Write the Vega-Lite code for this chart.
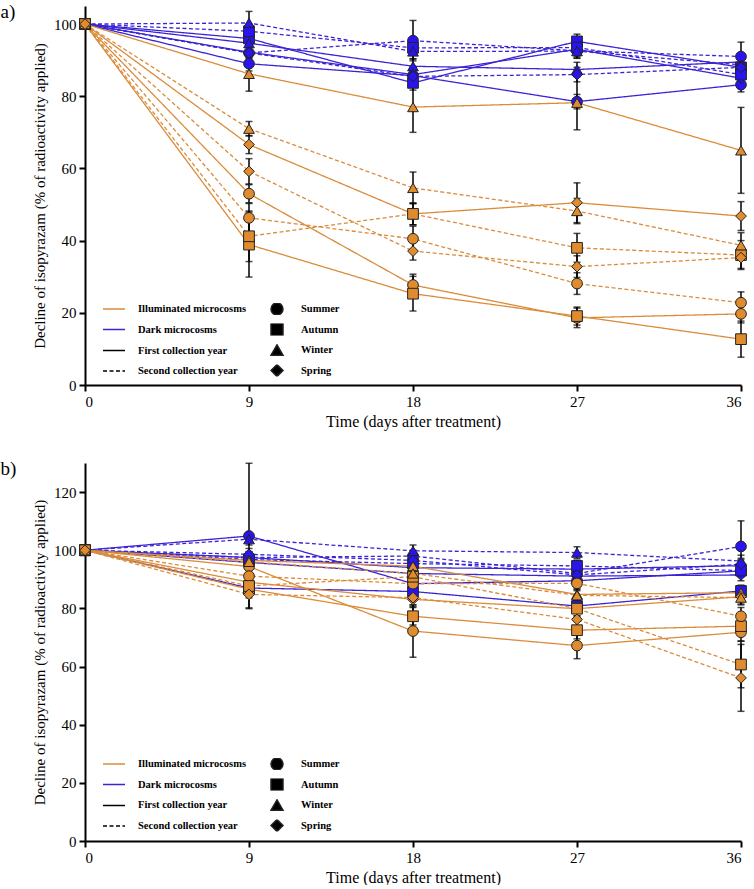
{
"$schema":"https://vega.github.io/schema/vega-lite/v6.json",
"padding":{"left":0,"top":3,"right":0,"bottom":0},
"background":"white",
"config":{
 "view":{"stroke":null},
 "font":"Liberation Serif",
 "axis":{"grid":false,"domainColor":"black","domainWidth":2,"tickColor":"black","tickWidth":2,"tickSize":6,"labelFont":"Liberation Serif","labelFontSize":15,"labelColor":"black","labelPadding":3,"titleFont":"Liberation Serif","titleFontSize":15,"titleColor":"black","titleFontWeight":"normal"},
 "legend":{"orient":"none","title":null,"padding":0,"labelFont":"Liberation Serif","labelFontSize":10.5,"labelFontWeight":"bold","labelColor":"black","clipHeight":12,"rowPadding":8.5,"labelLimit":300}
},
"spacing":30,
"resolve":{"scale":{"x":"independent","y":"independent"},"legend":{"color":"independent","strokeDash":"independent","shape":"independent","fill":"independent"}},
"datasets":{
"pa":[
{"light":"Dark","year":"First","season":"Summer","day":0,"value":100,"sd":0},
{"light":"Dark","year":"First","season":"Summer","day":9,"value":89,"sd":2},
{"light":"Dark","year":"First","season":"Summer","day":18,"value":85.7,"sd":2},
{"light":"Dark","year":"First","season":"Summer","day":27,"value":78.5,"sd":2},
{"light":"Dark","year":"First","season":"Summer","day":36,"value":83.2,"sd":2},
{"light":"Dark","year":"First","season":"Autumn","day":0,"value":100,"sd":0},
{"light":"Dark","year":"First","season":"Autumn","day":9,"value":96,"sd":2},
{"light":"Dark","year":"First","season":"Autumn","day":18,"value":83.7,"sd":2},
{"light":"Dark","year":"First","season":"Autumn","day":27,"value":95.2,"sd":2},
{"light":"Dark","year":"First","season":"Autumn","day":36,"value":88,"sd":1.5},
{"light":"Dark","year":"First","season":"Winter","day":0,"value":100,"sd":0},
{"light":"Dark","year":"First","season":"Winter","day":9,"value":94.7,"sd":2},
{"light":"Dark","year":"First","season":"Winter","day":18,"value":88.3,"sd":2},
{"light":"Dark","year":"First","season":"Winter","day":27,"value":87.4,"sd":2},
{"light":"Dark","year":"First","season":"Winter","day":36,"value":89.5,"sd":2},
{"light":"Dark","year":"First","season":"Spring","day":0,"value":100,"sd":0},
{"light":"Dark","year":"First","season":"Spring","day":9,"value":92.2,"sd":1.5},
{"light":"Dark","year":"First","season":"Spring","day":18,"value":86,"sd":2},
{"light":"Dark","year":"First","season":"Spring","day":27,"value":93,"sd":2},
{"light":"Dark","year":"First","season":"Spring","day":36,"value":85,"sd":2},
{"light":"Dark","year":"Second","season":"Summer","day":0,"value":100,"sd":0},
{"light":"Dark","year":"Second","season":"Summer","day":9,"value":92,"sd":2},
{"light":"Dark","year":"Second","season":"Summer","day":18,"value":95.4,"sd":5.6},
{"light":"Dark","year":"Second","season":"Summer","day":27,"value":92.6,"sd":2},
{"light":"Dark","year":"Second","season":"Summer","day":36,"value":91,"sd":4},
{"light":"Dark","year":"Second","season":"Autumn","day":0,"value":100,"sd":0},
{"light":"Dark","year":"Second","season":"Autumn","day":9,"value":98,"sd":2},
{"light":"Dark","year":"Second","season":"Autumn","day":18,"value":93.4,"sd":2},
{"light":"Dark","year":"Second","season":"Autumn","day":27,"value":93.5,"sd":2},
{"light":"Dark","year":"Second","season":"Autumn","day":36,"value":86,"sd":2},
{"light":"Dark","year":"Second","season":"Winter","day":0,"value":100,"sd":0},
{"light":"Dark","year":"Second","season":"Winter","day":9,"value":100.3,"sd":3.2},
{"light":"Dark","year":"Second","season":"Winter","day":18,"value":92.4,"sd":2},
{"light":"Dark","year":"Second","season":"Winter","day":27,"value":92.5,"sd":2},
{"light":"Dark","year":"Second","season":"Winter","day":36,"value":88.7,"sd":2},
{"light":"Dark","year":"Second","season":"Spring","day":0,"value":100,"sd":0},
{"light":"Dark","year":"Second","season":"Spring","day":9,"value":92,"sd":1.5},
{"light":"Dark","year":"Second","season":"Spring","day":18,"value":85.5,"sd":2},
{"light":"Dark","year":"Second","season":"Spring","day":27,"value":86,"sd":2},
{"light":"Dark","year":"Second","season":"Spring","day":36,"value":88,"sd":2},
{"light":"Illuminated","year":"First","season":"Summer","day":0,"value":100,"sd":0},
{"light":"Illuminated","year":"First","season":"Summer","day":9,"value":53,"sd":2.5},
{"light":"Illuminated","year":"First","season":"Summer","day":18,"value":27.7,"sd":3},
{"light":"Illuminated","year":"First","season":"Summer","day":27,"value":18.6,"sd":2.7},
{"light":"Illuminated","year":"First","season":"Summer","day":36,"value":19.7,"sd":2.5},
{"light":"Illuminated","year":"First","season":"Autumn","day":0,"value":100,"sd":0},
{"light":"Illuminated","year":"First","season":"Autumn","day":9,"value":38.9,"sd":9},
{"light":"Illuminated","year":"First","season":"Autumn","day":18,"value":25.3,"sd":4.8},
{"light":"Illuminated","year":"First","season":"Autumn","day":27,"value":19.1,"sd":2.5},
{"light":"Illuminated","year":"First","season":"Autumn","day":36,"value":12.7,"sd":5},
{"light":"Illuminated","year":"First","season":"Winter","day":0,"value":100,"sd":0},
{"light":"Illuminated","year":"First","season":"Winter","day":9,"value":86.2,"sd":4.8},
{"light":"Illuminated","year":"First","season":"Winter","day":18,"value":77,"sd":7},
{"light":"Illuminated","year":"First","season":"Winter","day":27,"value":78.2,"sd":7.5},
{"light":"Illuminated","year":"First","season":"Winter","day":36,"value":65,"sd":11.9},
{"light":"Illuminated","year":"First","season":"Spring","day":0,"value":100,"sd":0},
{"light":"Illuminated","year":"First","season":"Spring","day":9,"value":66.6,"sd":2.5},
{"light":"Illuminated","year":"First","season":"Spring","day":18,"value":47.4,"sd":3},
{"light":"Illuminated","year":"First","season":"Spring","day":27,"value":50.5,"sd":5.5},
{"light":"Illuminated","year":"First","season":"Spring","day":36,"value":46.8,"sd":4},
{"light":"Illuminated","year":"Second","season":"Summer","day":0,"value":100,"sd":0},
{"light":"Illuminated","year":"Second","season":"Summer","day":9,"value":46.3,"sd":4},
{"light":"Illuminated","year":"Second","season":"Summer","day":18,"value":40.5,"sd":3.5},
{"light":"Illuminated","year":"Second","season":"Summer","day":27,"value":28.1,"sd":3},
{"light":"Illuminated","year":"Second","season":"Summer","day":36,"value":22.8,"sd":3},
{"light":"Illuminated","year":"Second","season":"Autumn","day":0,"value":100,"sd":0},
{"light":"Illuminated","year":"Second","season":"Autumn","day":9,"value":41.2,"sd":7},
{"light":"Illuminated","year":"Second","season":"Autumn","day":18,"value":47.4,"sd":3},
{"light":"Illuminated","year":"Second","season":"Autumn","day":27,"value":38,"sd":4},
{"light":"Illuminated","year":"Second","season":"Autumn","day":36,"value":36,"sd":4},
{"light":"Illuminated","year":"Second","season":"Winter","day":0,"value":100,"sd":0},
{"light":"Illuminated","year":"Second","season":"Winter","day":9,"value":71,"sd":2},
{"light":"Illuminated","year":"Second","season":"Winter","day":18,"value":54.6,"sd":4.4},
{"light":"Illuminated","year":"Second","season":"Winter","day":27,"value":48.2,"sd":3.5},
{"light":"Illuminated","year":"Second","season":"Winter","day":36,"value":38.7,"sd":3.5},
{"light":"Illuminated","year":"Second","season":"Spring","day":0,"value":100,"sd":0},
{"light":"Illuminated","year":"Second","season":"Spring","day":9,"value":59.2,"sd":3.5},
{"light":"Illuminated","year":"Second","season":"Spring","day":18,"value":37.1,"sd":2.5},
{"light":"Illuminated","year":"Second","season":"Spring","day":27,"value":32.8,"sd":3},
{"light":"Illuminated","year":"Second","season":"Spring","day":36,"value":35.3,"sd":3}
],
"pb":[
{"light":"Dark","year":"First","season":"Summer","day":0,"value":100,"sd":0},
{"light":"Dark","year":"First","season":"Summer","day":9,"value":104.9,"sd":25},
{"light":"Dark","year":"First","season":"Summer","day":18,"value":88.5,"sd":2},
{"light":"Dark","year":"First","season":"Summer","day":27,"value":89.5,"sd":2},
{"light":"Dark","year":"First","season":"Summer","day":36,"value":92.9,"sd":2},
{"light":"Dark","year":"First","season":"Autumn","day":0,"value":100,"sd":0},
{"light":"Dark","year":"First","season":"Autumn","day":9,"value":87,"sd":2},
{"light":"Dark","year":"First","season":"Autumn","day":18,"value":85.8,"sd":2},
{"light":"Dark","year":"First","season":"Autumn","day":27,"value":80.8,"sd":2},
{"light":"Dark","year":"First","season":"Autumn","day":36,"value":86,"sd":2},
{"light":"Dark","year":"First","season":"Winter","day":0,"value":100,"sd":0},
{"light":"Dark","year":"First","season":"Winter","day":9,"value":97.5,"sd":2},
{"light":"Dark","year":"First","season":"Winter","day":18,"value":94,"sd":2},
{"light":"Dark","year":"First","season":"Winter","day":27,"value":93.5,"sd":2},
{"light":"Dark","year":"First","season":"Winter","day":36,"value":94.7,"sd":2},
{"light":"Dark","year":"First","season":"Spring","day":0,"value":100,"sd":0},
{"light":"Dark","year":"First","season":"Spring","day":9,"value":95.8,"sd":2},
{"light":"Dark","year":"First","season":"Spring","day":18,"value":92,"sd":2},
{"light":"Dark","year":"First","season":"Spring","day":27,"value":91.1,"sd":2},
{"light":"Dark","year":"First","season":"Spring","day":36,"value":91.5,"sd":2},
{"light":"Dark","year":"Second","season":"Summer","day":0,"value":100,"sd":0},
{"light":"Dark","year":"Second","season":"Summer","day":9,"value":97.5,"sd":2},
{"light":"Dark","year":"Second","season":"Summer","day":18,"value":98,"sd":2},
{"light":"Dark","year":"Second","season":"Summer","day":27,"value":92,"sd":2},
{"light":"Dark","year":"Second","season":"Summer","day":36,"value":101.3,"sd":8.8},
{"light":"Dark","year":"Second","season":"Autumn","day":0,"value":100,"sd":0},
{"light":"Dark","year":"Second","season":"Autumn","day":9,"value":96.8,"sd":2},
{"light":"Dark","year":"Second","season":"Autumn","day":18,"value":95.4,"sd":2},
{"light":"Dark","year":"Second","season":"Autumn","day":27,"value":94.6,"sd":2},
{"light":"Dark","year":"Second","season":"Autumn","day":36,"value":93,"sd":2},
{"light":"Dark","year":"Second","season":"Winter","day":0,"value":100,"sd":0},
{"light":"Dark","year":"Second","season":"Winter","day":9,"value":103.8,"sd":2},
{"light":"Dark","year":"Second","season":"Winter","day":18,"value":99.8,"sd":2},
{"light":"Dark","year":"Second","season":"Winter","day":27,"value":99.2,"sd":2},
{"light":"Dark","year":"Second","season":"Winter","day":36,"value":96.3,"sd":2},
{"light":"Dark","year":"Second","season":"Spring","day":0,"value":100,"sd":0},
{"light":"Dark","year":"Second","season":"Spring","day":9,"value":98.6,"sd":2},
{"light":"Dark","year":"Second","season":"Spring","day":18,"value":96.5,"sd":2},
{"light":"Dark","year":"Second","season":"Spring","day":27,"value":91.5,"sd":2},
{"light":"Dark","year":"Second","season":"Spring","day":36,"value":95.2,"sd":2},
{"light":"Illuminated","year":"First","season":"Summer","day":0,"value":100,"sd":0},
{"light":"Illuminated","year":"First","season":"Summer","day":9,"value":94.4,"sd":3},
{"light":"Illuminated","year":"First","season":"Summer","day":18,"value":72.2,"sd":9},
{"light":"Illuminated","year":"First","season":"Summer","day":27,"value":67.2,"sd":4.5},
{"light":"Illuminated","year":"First","season":"Summer","day":36,"value":71.8,"sd":3},
{"light":"Illuminated","year":"First","season":"Autumn","day":0,"value":100,"sd":0},
{"light":"Illuminated","year":"First","season":"Autumn","day":9,"value":86.6,"sd":3},
{"light":"Illuminated","year":"First","season":"Autumn","day":18,"value":77.3,"sd":3},
{"light":"Illuminated","year":"First","season":"Autumn","day":27,"value":72.5,"sd":3},
{"light":"Illuminated","year":"First","season":"Autumn","day":36,"value":73.9,"sd":3},
{"light":"Illuminated","year":"First","season":"Winter","day":0,"value":100,"sd":0},
{"light":"Illuminated","year":"First","season":"Winter","day":9,"value":96.5,"sd":2},
{"light":"Illuminated","year":"First","season":"Winter","day":18,"value":94.5,"sd":2},
{"light":"Illuminated","year":"First","season":"Winter","day":27,"value":84.8,"sd":2},
{"light":"Illuminated","year":"First","season":"Winter","day":36,"value":85.4,"sd":2},
{"light":"Illuminated","year":"First","season":"Spring","day":0,"value":100,"sd":0},
{"light":"Illuminated","year":"First","season":"Spring","day":9,"value":89,"sd":3},
{"light":"Illuminated","year":"First","season":"Spring","day":18,"value":83.1,"sd":2.5},
{"light":"Illuminated","year":"First","season":"Spring","day":27,"value":79.9,"sd":2.5},
{"light":"Illuminated","year":"First","season":"Spring","day":36,"value":84,"sd":2.5},
{"light":"Illuminated","year":"Second","season":"Summer","day":0,"value":100,"sd":0},
{"light":"Illuminated","year":"Second","season":"Summer","day":9,"value":91.1,"sd":2.5},
{"light":"Illuminated","year":"Second","season":"Summer","day":18,"value":88.5,"sd":2.5},
{"light":"Illuminated","year":"Second","season":"Summer","day":27,"value":88.6,"sd":2.5},
{"light":"Illuminated","year":"Second","season":"Summer","day":36,"value":77.3,"sd":3},
{"light":"Illuminated","year":"Second","season":"Autumn","day":0,"value":100,"sd":0},
{"light":"Illuminated","year":"Second","season":"Autumn","day":9,"value":87.7,"sd":3},
{"light":"Illuminated","year":"Second","season":"Autumn","day":18,"value":90.9,"sd":2.5},
{"light":"Illuminated","year":"Second","season":"Autumn","day":27,"value":79.9,"sd":2.5},
{"light":"Illuminated","year":"Second","season":"Autumn","day":36,"value":60.7,"sd":8},
{"light":"Illuminated","year":"Second","season":"Winter","day":0,"value":100,"sd":0},
{"light":"Illuminated","year":"Second","season":"Winter","day":9,"value":96,"sd":2},
{"light":"Illuminated","year":"Second","season":"Winter","day":18,"value":92,"sd":2},
{"light":"Illuminated","year":"Second","season":"Winter","day":27,"value":84.5,"sd":2},
{"light":"Illuminated","year":"Second","season":"Winter","day":36,"value":83.7,"sd":2.5},
{"light":"Illuminated","year":"Second","season":"Spring","day":0,"value":100,"sd":0},
{"light":"Illuminated","year":"Second","season":"Spring","day":9,"value":84.8,"sd":4.6},
{"light":"Illuminated","year":"Second","season":"Spring","day":18,"value":83.7,"sd":2.5},
{"light":"Illuminated","year":"Second","season":"Spring","day":27,"value":76.2,"sd":2.5},
{"light":"Illuminated","year":"Second","season":"Spring","day":36,"value":56.1,"sd":11.5}
]
},
"vconcat":[
{
 "width":656,"height":379,
 "title":{"text":"a)","anchor":"start","frame":"bounds","orient":"top","offset":-16,"dx":-32,"font":"Liberation Serif","fontSize":19,"fontWeight":"normal","color":"black"},
 "data":{"name":"pa"},
 "encoding":{
  "x":{"field":"day","type":"quantitative","scale":{"domain":[0,36],"nice":false,"zero":false},"axis":{"values":[0,9,18,27,36],"title":"Time (days after treatment)","titleFontSize":16,"titlePadding":4}},
  "y":{"field":"value","type":"quantitative","scale":{"domain":[0,105],"nice":false},"axis":{"values":[0,20,40,60,80,100],"title":"Decline of isopyrazam (% of radioactivity applied)","titlePadding":6}}
 },
 "layer":[
  {"mark":{"type":"line","strokeWidth":1.3},
   "encoding":{
    "color":{"field":"light","type":"nominal","scale":{"domain":["Illuminated","Dark"],"range":["#DA8C3A","#3B24D4"]},"legend":{"legendX":17,"legendY":297,"symbolType":"stroke","symbolSize":484,"symbolStrokeWidth":1.5,"labelOffset":12,"labelExpr":"datum.label + ' microcosms'"}},
    "strokeDash":{"field":"year","type":"nominal","scale":{"domain":["First","Second"],"range":[[1,0],[4,2.5]]},"legend":{"legendX":17,"legendY":338.5,"symbolType":"stroke","symbolSize":484,"symbolStrokeWidth":1.5,"labelOffset":12,"labelExpr":"datum.label + ' collection year'","encode":{"symbols":{"update":{"stroke":{"value":"black"}}}}}},
    "detail":{"field":"season"},
    "order":{"field":"day","type":"quantitative"}
   }},
  {"transform":[{"filter":"datum.day > 0"}],
   "mark":{"type":"errorbar","ticks":true,"size":7,"thickness":1.5,"color":"black"},
   "encoding":{"yError":{"field":"sd"}}},
  {"mark":{"type":"point","filled":true,"size":115,"stroke":"#222222","strokeWidth":1,"opacity":1},
   "encoding":{
    "fill":{"field":"light","type":"nominal","scale":{"domain":["Illuminated","Dark"],"range":["#E08C2E","#2A14EE"]},"legend":null},
    "shape":{"field":"season","type":"nominal","scale":{"domain":["Summer","Autumn","Winter","Spring"],"range":["circle","square","triangle-up","diamond"]},"legend":{"legendX":185,"legendY":297,"symbolSize":144,"labelOffset":17,"encode":{"symbols":{"update":{"fill":{"value":"black"},"stroke":{"value":"black"},"opacity":{"value":1}}}}}}
   }}
 ]
},
{
 "width":656,"height":378,
 "title":{"text":"b)","anchor":"start","frame":"bounds","orient":"top","offset":-16,"dx":-32,"font":"Liberation Serif","fontSize":19,"fontWeight":"normal","color":"black"},
 "data":{"name":"pb"},
 "encoding":{
  "x":{"field":"day","type":"quantitative","scale":{"domain":[0,36],"nice":false,"zero":false},"axis":{"values":[0,9,18,27,36],"title":"Time (days after treatment)","titleFontSize":16,"titlePadding":4}},
  "y":{"field":"value","type":"quantitative","scale":{"domain":[0,130],"nice":false},"axis":{"values":[0,20,40,60,80,100,120],"title":"Decline of isopyrazam (% of radioactivity applied)","titlePadding":6}}
 },
 "layer":[
  {"mark":{"type":"line","strokeWidth":1.3},
   "encoding":{
    "color":{"field":"light","type":"nominal","scale":{"domain":["Illuminated","Dark"],"range":["#DA8C3A","#3B24D4"]},"legend":{"legendX":17,"legendY":295,"symbolType":"stroke","symbolSize":484,"symbolStrokeWidth":1.5,"labelOffset":12,"labelExpr":"datum.label + ' microcosms'"}},
    "strokeDash":{"field":"year","type":"nominal","scale":{"domain":["First","Second"],"range":[[1,0],[4,2.5]]},"legend":{"legendX":17,"legendY":336.4,"symbolType":"stroke","symbolSize":484,"symbolStrokeWidth":1.5,"labelOffset":12,"labelExpr":"datum.label + ' collection year'","encode":{"symbols":{"update":{"stroke":{"value":"black"}}}}}},
    "detail":{"field":"season"},
    "order":{"field":"day","type":"quantitative"}
   }},
  {"transform":[{"filter":"datum.day > 0"}],
   "mark":{"type":"errorbar","ticks":true,"size":7,"thickness":1.5,"color":"black"},
   "encoding":{"yError":{"field":"sd"}}},
  {"mark":{"type":"point","filled":true,"size":115,"stroke":"#222222","strokeWidth":1,"opacity":1},
   "encoding":{
    "fill":{"field":"light","type":"nominal","scale":{"domain":["Illuminated","Dark"],"range":["#E08C2E","#2A14EE"]},"legend":null},
    "shape":{"field":"season","type":"nominal","scale":{"domain":["Summer","Autumn","Winter","Spring"],"range":["circle","square","triangle-up","diamond"]},"legend":{"legendX":185,"legendY":295,"symbolSize":144,"labelOffset":17,"encode":{"symbols":{"update":{"fill":{"value":"black"},"stroke":{"value":"black"},"opacity":{"value":1}}}}}}
   }}
 ]
}
]
}
